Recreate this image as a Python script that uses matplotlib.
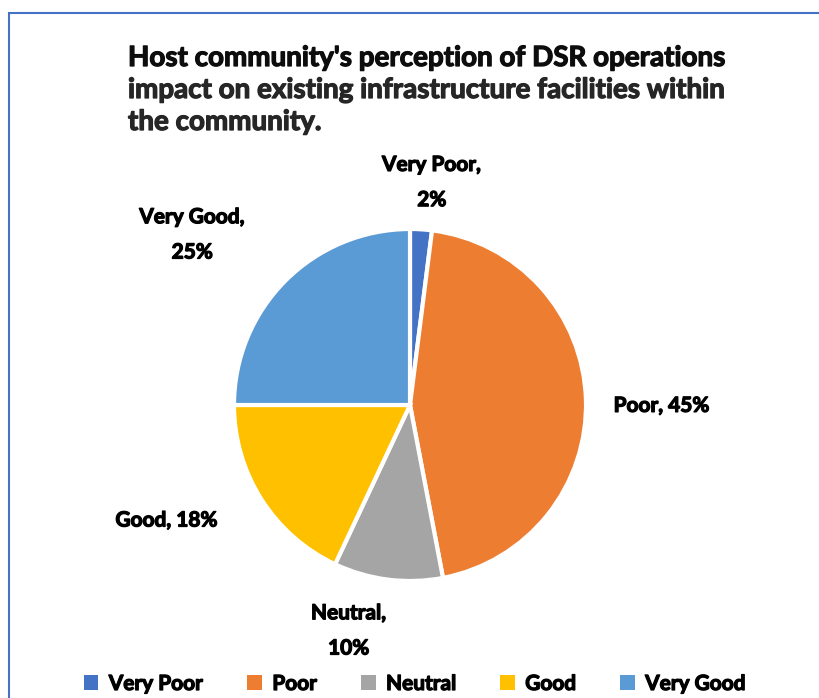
import numpy as np
import matplotlib
matplotlib.use("Agg")
from matplotlib import pyplot as plt
from matplotlib.patches import Rectangle
import matplotlib.patheffects as pe

categories = ["Very Poor", "Poor", "Neutral", "Good", "Very Good"]
shares = [2, 45, 10, 18, 25]
colors = ["#4472C4", "#ED7D31", "#A5A5A5", "#FFC000", "#5B9BD5"]
label_texts = ["Very Poor,\n2%", "Poor, 45%", "Neutral,\n10%", "Good, 18%", "Very Good,\n25%"]

title_lines = ["Host community's perception of DSR operations",
               "impact on existing infrastructure facilities within",
               "the community."]

plt.rcParams['font.family'] = ['Lato', 'DejaVu Sans']


def heavy(color):
    # thicken the bold glyphs a little
    return [pe.withStroke(linewidth=0.9, foreground=color)]


W, H = 820, 698
fig = plt.figure(figsize=(W / 100, H / 100), dpi=100)

# one data unit = pie radius = 176 px, centre at (410, 405) from top-left
R = 176.0
cx, cy = 410.0, 405.0
ax = fig.add_axes([0, 0, 1, 1])
wedges, _ = ax.pie(shares, colors=colors, startangle=90, counterclock=False,
                   radius=1.0, center=(0, 0),
                   wedgeprops=dict(edgecolor="white", linewidth=3))
ax.set_xlim(-cx / R, (W - cx) / R)
ax.set_ylim(-(H - cy) / R, cy / R)
ax.set_aspect("equal")
ax.axis("off")

# data labels outside the slices
label_dist = [1.27, 1.43, 1.33, 1.53, 1.57]
angle_nudge = [-2, -2, -8, -7, 7]
for w, txt, d, nudge in zip(wedges, label_texts, label_dist, angle_nudge):
    mid = np.deg2rad((w.theta1 + w.theta2) / 2 + nudge)
    ax.text(d * np.cos(mid), d * np.sin(mid), txt, ha="center", va="center",
            fontsize=15, fontweight="bold", color="#000000", linespacing=1.95,
            path_effects=heavy("#000000"))

# title
for i, line in enumerate(title_lines):
    c = "#0d0d0d" if i == 0 else "#262626"
    fig.text(128 / W, 1 - (58 + 32 * i) / H, line, ha="left", va="center",
             fontsize=20, fontweight="bold", color=c, path_effects=heavy(c))

# chart frame (only left and top edges are visible)
fig.patches.append(Rectangle((9.5 / W, -0.5), 2.0, 1.5 - 12.5 / H,
                             transform=fig.transFigure, fill=False,
                             edgecolor="#4472C4", linewidth=1.5))

leg = fig.legend(wedges, categories, loc="center", bbox_to_anchor=(415 / W, 1 - 684 / H),
                 ncol=5, frameon=False, handlelength=0.7, handleheight=0.7,
                 handletextpad=0.5, columnspacing=2.1,
                 prop=dict(size=15, weight="bold"))
for h in leg.legend_handles:
    h.set_edgecolor("none")
for t in leg.get_texts():
    t.set_path_effects(heavy("#000000"))

fig.savefig("out.png", dpi=100)
